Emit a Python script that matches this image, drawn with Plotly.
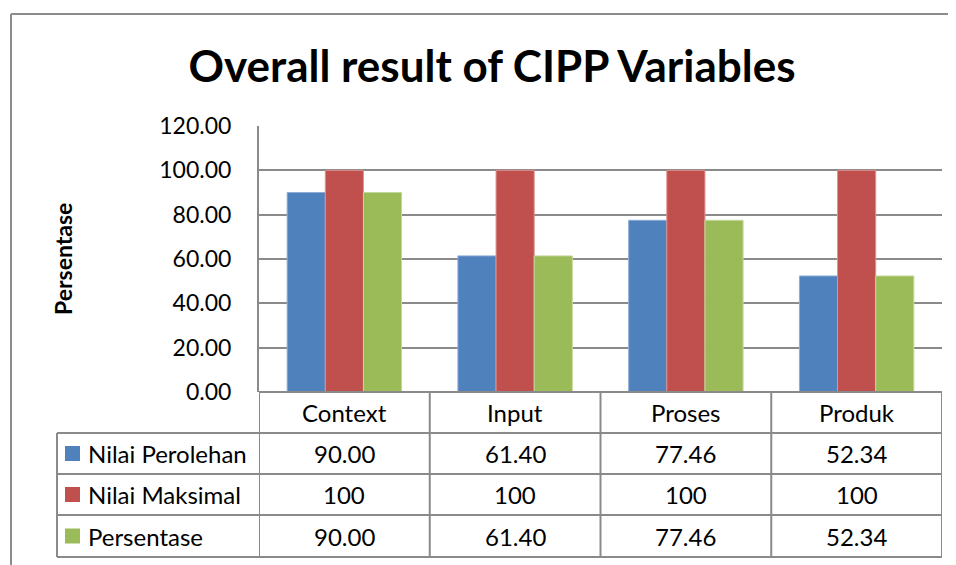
import plotly.graph_objects as go

# the page body has an 8px margin, so the figure starts at (8, 8) of the window
OFF = 8
W, H = 956 - OFF, 565 - OFF

# Data
categories = ['Context', 'Input', 'Proses', 'Produk']
series_names = ['Nilai Perolehan', 'Nilai Maksimal', 'Persentase']
nilai_perolehan = [90.00, 61.40, 77.46, 52.34]
nilai_maksimal = [100, 100, 100, 100]
persentase = [90.00, 61.40, 77.46, 52.34]
y_ticks = [0, 20, 40, 60, 80, 100, 120]

series_values = [nilai_perolehan, nilai_maksimal, persentase]
series_fmt = ['{:.2f}', '{:d}', '{:.2f}']
colors = ['#4F81BD', '#C0504D', '#9BBB59']
edge_colors = ['#8EACD6', '#DC9290', '#C3D79B']

FONT = 'Lato'
GRID = '#8A8A8A'


def px_x(x):
    # window pixel -> paper fraction
    return (x - OFF) / W


def px_y(y):
    return (H - (y - OFF)) / H


# plot area in window pixels
PL, PR, PT, PB = 259, 942, 126, 392
# table row edges (window pixels)
row_edges = [392, 433, 474, 515, 557]
TL = 57

fig = go.Figure()

for name, vals, c, ec in zip(series_names, series_values, colors, edge_colors):
    fig.add_trace(go.Bar(
        x=categories, y=vals, name=name,
        marker=dict(color=c, line=dict(color=ec, width=1)),
        showlegend=False,
    ))

shapes = []
annotations = []

# outer chart border (top and left visible)
shapes.append(dict(type='line', xref='paper', yref='paper',
                   x0=px_x(11), x1=1.0, y0=px_y(14), y1=px_y(14),
                   line=dict(color='#8C8C8C', width=2)))
shapes.append(dict(type='line', xref='paper', yref='paper',
                   x0=px_x(11), x1=px_x(11), y0=px_y(14), y1=0,
                   line=dict(color='#8C8C8C', width=2)))

# table horizontal lines
shapes.append(dict(type='line', xref='paper', yref='paper',
                   x0=px_x(PL), x1=px_x(PR), y0=px_y(row_edges[0]), y1=px_y(row_edges[0]),
                   line=dict(color=GRID, width=2)))
for ry in row_edges[1:]:
    shapes.append(dict(type='line', xref='paper', yref='paper',
                       x0=px_x(TL), x1=px_x(PR), y0=px_y(ry), y1=px_y(ry),
                       line=dict(color=GRID, width=2)))

# table vertical lines on the category boundaries
for i in range(len(categories) + 1):
    shapes.append(dict(type='line', xref='x', yref='paper',
                       x0=i - 0.5, x1=i - 0.5,
                       y0=px_y(row_edges[0]), y1=px_y(row_edges[-1]),
                       line=dict(color=GRID, width=2)))
shapes.append(dict(type='line', xref='paper', yref='paper',
                   x0=px_x(TL), x1=px_x(TL),
                   y0=px_y(row_edges[1]), y1=px_y(row_edges[-1]),
                   line=dict(color=GRID, width=2)))

# header row: category names
hy = (row_edges[0] + row_edges[1]) / 2
for cat in categories:
    annotations.append(dict(x=cat, y=px_y(hy), xref='x', yref='paper',
                            text=cat, showarrow=False,
                            font=dict(family=FONT, size=24, color='black'),
                            xanchor='center', yanchor='middle'))

# data rows with legend keys
for r, (name, vals, fmt, c) in enumerate(zip(series_names, series_values, series_fmt, colors)):
    cy = (row_edges[r + 1] + row_edges[r + 2]) / 2
    shapes.append(dict(type='rect', xref='paper', yref='paper',
                       x0=px_x(65), x1=px_x(80), y0=px_y(cy - 7.5), y1=px_y(cy + 7.5),
                       fillcolor=c, line=dict(width=0)))
    annotations.append(dict(x=px_x(86), y=px_y(cy), xref='paper', yref='paper',
                            text=name, showarrow=False,
                            font=dict(family=FONT, size=24, color='black'),
                            xanchor='left', yanchor='middle'))
    for cat, v in zip(categories, vals):
        annotations.append(dict(x=cat, y=px_y(cy), xref='x', yref='paper',
                                text=fmt.format(v), showarrow=False,
                                font=dict(family=FONT, size=24, color='black'),
                                xanchor='center', yanchor='middle'))

# y-axis title
annotations.append(dict(x=px_x(63), y=px_y(259), xref='paper', yref='paper',
                        text='<b>Persentase</b>', showarrow=False, textangle=-90,
                        font=dict(family=FONT, size=23, color='black'),
                        xanchor='center', yanchor='middle'))

fig.update_layout(
    width=W, height=H,
    margin=dict(l=0, r=0, t=0, b=0, autoexpand=False),
    paper_bgcolor='white', plot_bgcolor='white',
    title=dict(text='<b>Overall result of CIPP Variables</b>',
               x=px_x(492), xanchor='center', y=px_y(67), yanchor='middle',
               font=dict(family=FONT, size=44, color='black')),
    barmode='group', bargap=0.33, bargroupgap=0,
    xaxis=dict(domain=[px_x(PL), px_x(PR)], range=[-0.5, 3.5], automargin=False,
               showticklabels=False, showgrid=False, zeroline=False, showline=False),
    yaxis=dict(domain=[px_y(PB), px_y(PT)], range=[0, 120], automargin=False,
               tickvals=y_ticks, tickformat='.2f',
               tickfont=dict(family=FONT, size=23, color='black'),
               ticklabelstandoff=21,
               showgrid=True, gridcolor=GRID, gridwidth=2,
               zeroline=False, showline=True, linecolor=GRID, linewidth=2),
    shapes=shapes,
    annotations=annotations,
)

fig.write_html('out.html')
